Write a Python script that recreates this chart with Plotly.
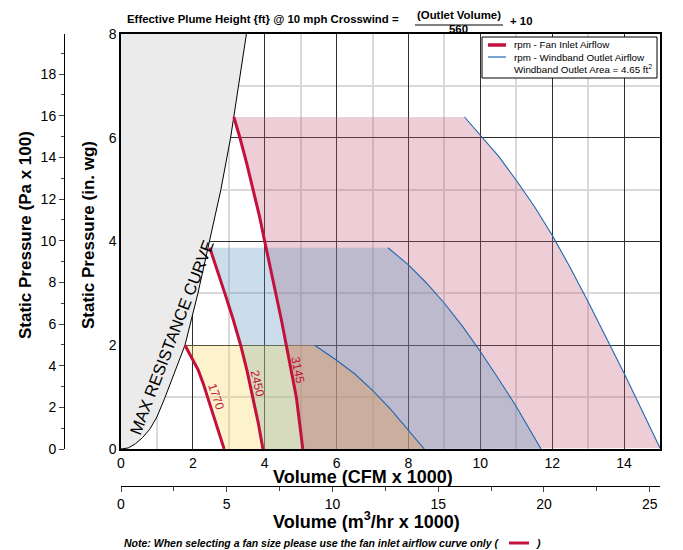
import plotly.graph_objects as go

# max resistance curve (CFM x1000, in. wg)
max_res_x = [0, 0.2, 0.4, 0.6, 0.8, 1.0, 1.2, 1.4, 1.6, 1.78, 2.14, 2.47, 2.78, 3.05, 3.28, 3.49]
max_res_y = [0, 0.02, 0.1, 0.22, 0.38, 0.62, 0.95, 1.3, 1.65, 2.0, 3.0, 4.0, 5.0, 6.0, 7.0, 8.0]

# fan inlet airflow curves (rpm)
fan_1770_x = [1.78, 1.97, 2.15, 2.29, 2.41, 2.54, 2.66, 2.77, 2.87]
fan_1770_y = [2.0, 1.76, 1.52, 1.26, 1.0, 0.75, 0.49, 0.24, 0]
fan_2450_x = [2.47, 2.68, 2.89, 3.12, 3.33, 3.51, 3.67, 3.82, 3.95]
fan_2450_y = [3.88, 3.45, 3.0, 2.5, 2.0, 1.5, 1.0, 0.5, 0]
fan_3145_x = [3.14, 3.31, 3.5, 3.68, 3.85, 4.0, 4.16, 4.32, 4.46, 4.6, 4.74, 4.88, 4.97, 5.06]
fan_3145_y = [6.4, 6.0, 5.5, 5.0, 4.5, 4.0, 3.5, 3.0, 2.5, 2.0, 1.5, 1.0, 0.5, 0]

# windband outlet airflow curves
wb_1770_x = [5.39, 6.0, 6.5, 7.0, 7.5, 8.0, 8.44]
wb_1770_y = [2.0, 1.71, 1.45, 1.13, 0.77, 0.37, 0]
wb_2450_x = [7.43, 8.0, 8.5, 9.0, 9.5, 10.0, 10.5, 11.0, 11.69]
wb_2450_y = [3.88, 3.55, 3.2, 2.81, 2.37, 1.88, 1.36, 0.82, 0]
wb_3145_x = [9.56, 10.0, 10.5, 11.0, 11.5, 12.0, 12.5, 13.0, 13.5, 14.0, 14.5, 15.0]
wb_3145_y = [6.4, 6.05, 5.65, 5.18, 4.68, 4.12, 3.5, 2.84, 2.16, 1.46, 0.74, 0.02]

rpm_labels = ["1770", "2450", "3145"]
label_x = [2.66, 3.79, 4.93]
label_y = [1.01, 1.27, 1.53]
label_angle = [71, 77, 79]

CFM_TO_M3H = 1.699
INWG_TO_PA100 = 2.4909

RED = "#c4103c"
BLUE = "#1f66b0"
FONT = "Liberation Sans, Arial, sans-serif"
# the page body has an 8px margin, so the figure is laid out in window pixels minus 8
OFF = 8
W, H = 683 - OFF, 550 - OFF


def px(v):
    return (v - OFF) / W


def py(v):
    return 1 - (v - OFF) / H


fig = go.Figure()

fig.add_trace(go.Scatter(x=max_res_x, y=max_res_y, mode="lines", fill="tozerox",
                         fillcolor="#ebebeb", line=dict(color="black", width=1)))

regions = [
    (fan_3145_x, fan_3145_y, wb_3145_x, wb_3145_y, "rgba(195,88,118,0.3)"),
    (fan_2450_x, fan_2450_y, wb_2450_x, wb_2450_y, "rgba(82,142,185,0.3)"),
    (fan_1770_x, fan_1770_y, wb_1770_x, wb_1770_y, "rgba(245,215,85,0.3)"),
]
for fx, fy, bx, by, col in regions:
    fig.add_trace(go.Scatter(x=fx + bx[::-1], y=fy + by[::-1], mode="lines", fill="toself",
                             fillcolor=col, line=dict(width=0)))

# part of the 1770 area that also lies in the 3145 area gets a darker tint
low_x = [x for x, y in zip(fan_3145_x, fan_3145_y) if y <= 2.0]
low_y = [y for y in fan_3145_y if y <= 2.0]
fig.add_trace(go.Scatter(x=low_x + wb_1770_x[::-1], y=low_y + wb_1770_y[::-1], mode="lines",
                         fill="toself", fillcolor="rgba(200,125,132,0.3)", line=dict(width=0)))

for bx, by in [(wb_1770_x, wb_1770_y), (wb_2450_x, wb_2450_y), (wb_3145_x, wb_3145_y)]:
    fig.add_trace(go.Scatter(x=bx, y=by, mode="lines", line=dict(color=BLUE, width=1.1)))

for fx, fy in [(fan_1770_x, fan_1770_y), (fan_2450_x, fan_2450_y), (fan_3145_x, fan_3145_y)]:
    fig.add_trace(go.Scatter(x=fx, y=fy, mode="lines", line=dict(color=RED, width=3)))

# secondary metric axes
fig.add_trace(go.Scatter(x=[], y=[], xaxis="x2", yaxis="y2"))

annotations = []
for t, x, y, a in zip(rpm_labels, label_x, label_y, label_angle):
    annotations.append(dict(x=x, y=y, xref="x", yref="y", text=t, showarrow=False,
                            textangle=a, font=dict(size=12, color=RED)))
annotations.append(dict(x=1.41, y=2.16, xref="x", yref="y", text="MAX RESISTANCE CURVE",
                        showarrow=False, textangle=-69, font=dict(size=16.5, color="black")))

paper_text = [
    ("<b>Effective Plume Height {ft} @ 10 mph Crosswind =</b>", 125, 19, "left", 11.4),
    ("<b>(Outlet Volume)</b>", 459, 15, "center", 11.4),
    ("<b>560</b>", 458, 29, "center", 11.4),
    ("<b>+ 10</b>", 508, 21, "left", 11.4),
    ("rpm - Fan Inlet Airflow", 512, 45, "left", 9.8),
    ("rpm - Windband Outlet Airflow", 512, 57, "left", 9.8),
    ("Windband Outlet Area = 4.65 ft<sup>2</sup>", 512, 69, "left", 9.8),
    ("<b>Volume (CFM x 1000)</b>", 363, 477, "center", 18),
    ("<b>Volume (m<sup>3</sup>/hr x 1000)</b>", 367, 520, "center", 18),
    ("<b><i>Note: When selecting a fan size please use the fan inlet airflow curve only (</i></b>",
     122, 543, "left", 10.5),
    ("<b><i>)</i></b>", 534, 543, "left", 10.5),
]
for t, x, y, al, s in paper_text:
    annotations.append(dict(x=px(x), y=py(y), xref="paper", yref="paper", text=t, showarrow=False,
                            xanchor=al, yanchor="middle", font=dict(size=s, color="black")))
for t, x in [("<b>Static Pressure (Pa x 100)</b>", 25), ("<b>Static Pressure (in. wg)</b>", 88)]:
    annotations.append(dict(x=px(x), y=py(235), xref="paper", yref="paper", text=t,
                            showarrow=False, textangle=-90, xanchor="center", yanchor="middle",
                            font=dict(size=17, color="black")))

shapes = [
    dict(type="line", xref="paper", yref="paper", x0=px(415), x1=px(503), y0=py(25), y1=py(25),
         line=dict(color="black", width=1)),
    dict(type="rect", xref="paper", yref="paper", x0=px(482), x1=px(657), y0=py(37), y1=py(78),
         line=dict(color="black", width=1), fillcolor="white"),
    dict(type="line", xref="paper", yref="paper", x0=px(488), x1=px(506), y0=py(45), y1=py(45),
         line=dict(color=RED, width=3.5)),
    dict(type="line", xref="paper", yref="paper", x0=px(488), x1=px(506), y0=py(57), y1=py(57),
         line=dict(color=BLUE, width=1.2)),
    dict(type="line", xref="paper", yref="paper", x0=px(509), x1=px(529), y0=py(543), y1=py(543),
         line=dict(color=RED, width=3)),
]

fig.update_layout(
    template="none",
    width=W, height=H,
    margin=dict(l=0, r=0, t=0, b=0),
    paper_bgcolor="white", plot_bgcolor="white",
    showlegend=False,
    font=dict(family=FONT, color="black"),
    annotations=annotations,
    shapes=shapes,
    xaxis=dict(domain=[px(121), px(660)], range=[0, 15], tick0=0, dtick=2,
               showline=True, linecolor="black", linewidth=1.5, mirror=True,
               showgrid=True, gridcolor="#2e2e2e", gridwidth=1.2, zeroline=False,
               ticks="", tickfont=dict(size=14), automargin=False,
               minor=dict(dtick=1, tick0=0, showgrid=True, gridcolor="#d9d9d9", gridwidth=1.5)),
    yaxis=dict(domain=[py(449), py(34)], range=[0, 8], tick0=0, dtick=2,
               showline=True, linecolor="black", linewidth=1.5, mirror=True,
               showgrid=True, gridcolor="#2e2e2e", gridwidth=1.2, zeroline=False,
               ticks="", tickfont=dict(size=14), automargin=False,
               minor=dict(dtick=1, tick0=0, showgrid=True, gridcolor="#d9d9d9", gridwidth=1.5)),
    xaxis2=dict(overlaying="x", anchor="free", position=py(486), side="bottom",
                range=[0, 15 * CFM_TO_M3H], tick0=0, dtick=5, showgrid=False, zeroline=False,
                showline=True, linecolor="black", linewidth=1, ticks="outside", ticklen=5,
                tickfont=dict(size=14), automargin=False,
                minor=dict(dtick=2.5, tick0=0, ticks="outside", ticklen=4, showgrid=False)),
    yaxis2=dict(overlaying="y", anchor="free", position=px(64), side="left",
                range=[0, 8 * INWG_TO_PA100], tick0=0, dtick=2, showgrid=False, zeroline=False,
                showline=True, linecolor="black", linewidth=1, ticks="outside", ticklen=5,
                tickfont=dict(size=14), automargin=False,
                minor=dict(dtick=1, tick0=0, ticks="outside", ticklen=3, showgrid=False)),
)

fig.write_html("out.html")
